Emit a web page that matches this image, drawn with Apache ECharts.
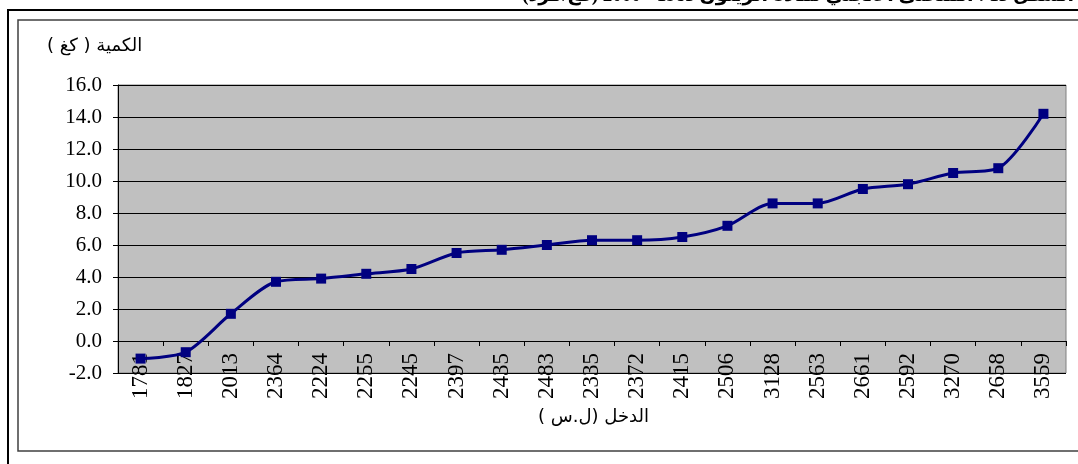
<!DOCTYPE html>
<html><head><meta charset="utf-8">
<script src="https://cdn.jsdelivr.net/npm/echarts@6/dist/echarts.min.js"></script>
<style>html,body{margin:0;padding:0;background:#fff;}#c{width:1078px;height:464px;}</style>
</head><body><div id="c"></div>
<script>
var categories = ['1781','1827','2013','2364','2224','2255','2245','2397','2435','2483','2335','2372','2415','2506','3128','2563','2661','2592','3270','2658','3559'];
var quantity = [-1.1,-0.7,1.7,3.7,3.9,4.2,4.5,5.5,5.7,6.0,6.3,6.3,6.5,7.2,8.6,8.6,9.5,9.8,10.5,10.8,14.2];
var yTitle = '\u200Fالكمية ( كغ )\u200F';
var xTitle = '\u200Fالدخل (ل.س )\u200F';
var topTitle = '\u200Fالشكل 13 : المنحنى الانجلي لمادة الزيتون 1985 - 2000 (كغ/فرد)\u200F';

var chart = echarts.init(document.getElementById('c'), null, {renderer:'canvas'});
chart.setOption({
  animation: false,
  backgroundColor: '#ffffff',
  grid: {left:118, top:85, width:948, height:288, show:true, backgroundColor:'#c0c0c0', borderColor:'#808080', borderWidth:1, containLabel:false},
  xAxis: {
    type:'category', data:categories, boundaryGap:true, offset:-32,
    axisLine:{show:true, onZero:false, lineStyle:{color:'#000', width:1}},
    axisTick:{show:true, inside:false, length:5, alignWithLabel:false, lineStyle:{color:'#000'}},
    axisLabel:{rotate:90, margin:12, interval:0, color:'#000', fontFamily:'Liberation Serif', fontSize:23},
    splitLine:{show:false}
  },
  yAxis: {
    type:'value', min:-2, max:16, interval:2,
    axisLine:{show:true, onZero:false, lineStyle:{color:'#000', width:1}},
    axisTick:{show:true, inside:false, length:5, lineStyle:{color:'#000'}},
    axisLabel:{margin:16, color:'#000', fontFamily:'Liberation Serif', fontSize:21, formatter:function(v){return v.toFixed(1);}},
    splitLine:{show:true, lineStyle:{color:'#000', width:1}}
  },
  series: [{
    type:'line', data:quantity, smooth:0.28,
    symbol:'rect', symbolSize:10,
    itemStyle:{color:'#000080'},
    lineStyle:{color:'#000080', width:3},
    z:5
  }],
  graphic: [
    {type:'rect', shape:{x:8, y:10, width:1100, height:470}, style:{fill:'none', stroke:'#000', lineWidth:2}, silent:true},
    {type:'rect', shape:{x:18, y:20, width:1100, height:431}, style:{fill:'none', stroke:'#404040', lineWidth:1.5}, silent:true},
    {type:'text', right:4, top:-13, style:{text:topTitle, fill:'#000', font:'bold 19px "Liberation Serif", "DejaVu Sans"', textAlign:'right'}},
    {type:'text', left:47, top:37, style:{text:yTitle, fill:'#000', font:'18px "DejaVu Sans"'}},
    {type:'text', left:538, top:408, style:{text:xTitle, fill:'#000', font:'18px "DejaVu Sans"'}}
  ]
});
</script></body></html>
